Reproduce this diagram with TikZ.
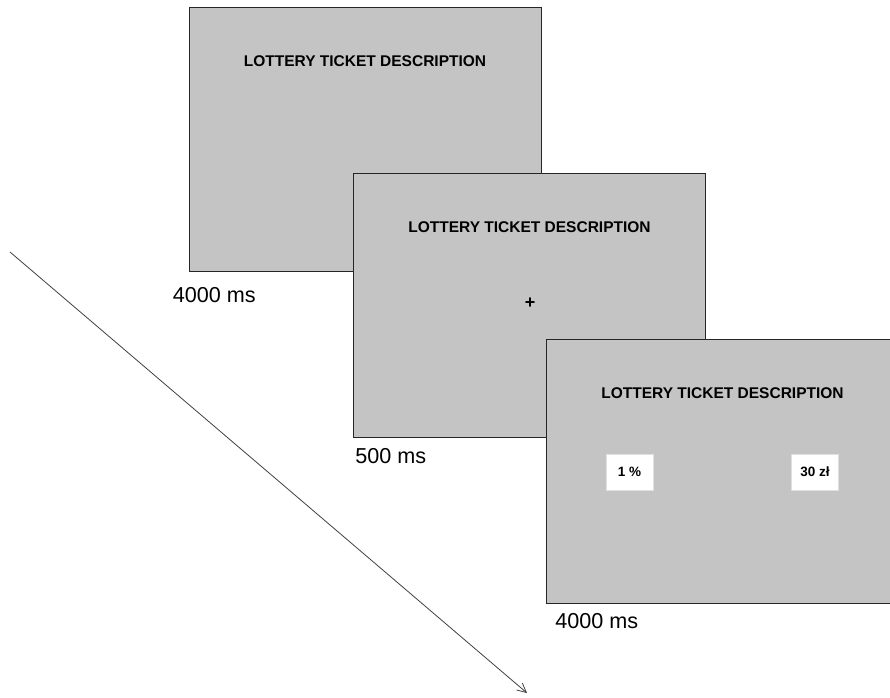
\documentclass[tikz,border=0pt]{standalone}
\usepackage{fontspec}
\setmainfont{Liberation Sans}
\usetikzlibrary{arrows.meta, positioning, calc}
\definecolor{screengray}{HTML}{C4C4C4}

\begin{document}
\begin{tikzpicture}[x=1pt, y=-1pt, >={Straight Barb[length=9pt, width=9pt]}]
    \tikzset{
		screen/.style={draw=black!85, line width=0.9pt, fill=screengray, rectangle, minimum width=352pt, minimum height=264pt, inner sep=0pt},
		header/.style={font=\fontsize{15.5}{18}\selectfont\bfseries, text=black, inner sep=0pt},
		option/.style={fill=white, draw=black!12, minimum width=47pt, minimum height=36pt, font=\fontsize{13.5}{16}\selectfont\bfseries, inner sep=0pt},
		timing/.style={font=\fontsize{21.6}{25}\selectfont, inner sep=0pt},
		fixation/.style={font=\fontsize{18}{20}\selectfont\bfseries, inner sep=0pt}
	}
	\useasboundingbox (0,0) rectangle (890,697);
	\clip (0,0) rectangle (890,697);

	% --- Eje de tiempo ---
	\coordinate (t_start) at (10,252);
	\coordinate (t_end) at (527,693);
	\draw [->, draw=black!75, line width=0.8pt] (t_start) -- (t_end);

	% --- Pantalla 1: descripcion ---
	\node [screen] (s1) at (365,139) {};
	\node [header] (h1) at ($(s1.north)+(0,55)$) {LOTTERY TICKET DESCRIPTION};
	\node [timing, anchor=north west, below right=16pt and -16pt of s1.south west] (d1) {4000 ms};

	% --- Pantalla 2: fijacion ---
	\node [screen] (s2) at (529.5,305) {};
	\node [header] (h2) at ($(s2.north)+(0,55)$) {LOTTERY TICKET DESCRIPTION};
	\node [fixation] (fix) at ($(s2.center)+(0.5,-2)$) {+};
	\node [timing, anchor=north west, below right=11pt and 2pt of s2.south west] (d2) {500 ms};

	% --- Pantalla 3: probabilidad y premio ---
	\node [screen] (s3) at (722.5,471) {};
	\node [header] (h3) at ($(s3.north)+(0,55)$) {LOTTERY TICKET DESCRIPTION};
	\node [option] (prob) at ($(s3.center)+(-93,1)$) {1 \%};
	\node [option] (prize) at ($(s3.center)+(92.5,1)$) {30 zł};
	\node [timing, anchor=north west, below right=10pt and 9pt of s3.south west] (d3) {4000 ms};
\end{tikzpicture}
\end{document}
